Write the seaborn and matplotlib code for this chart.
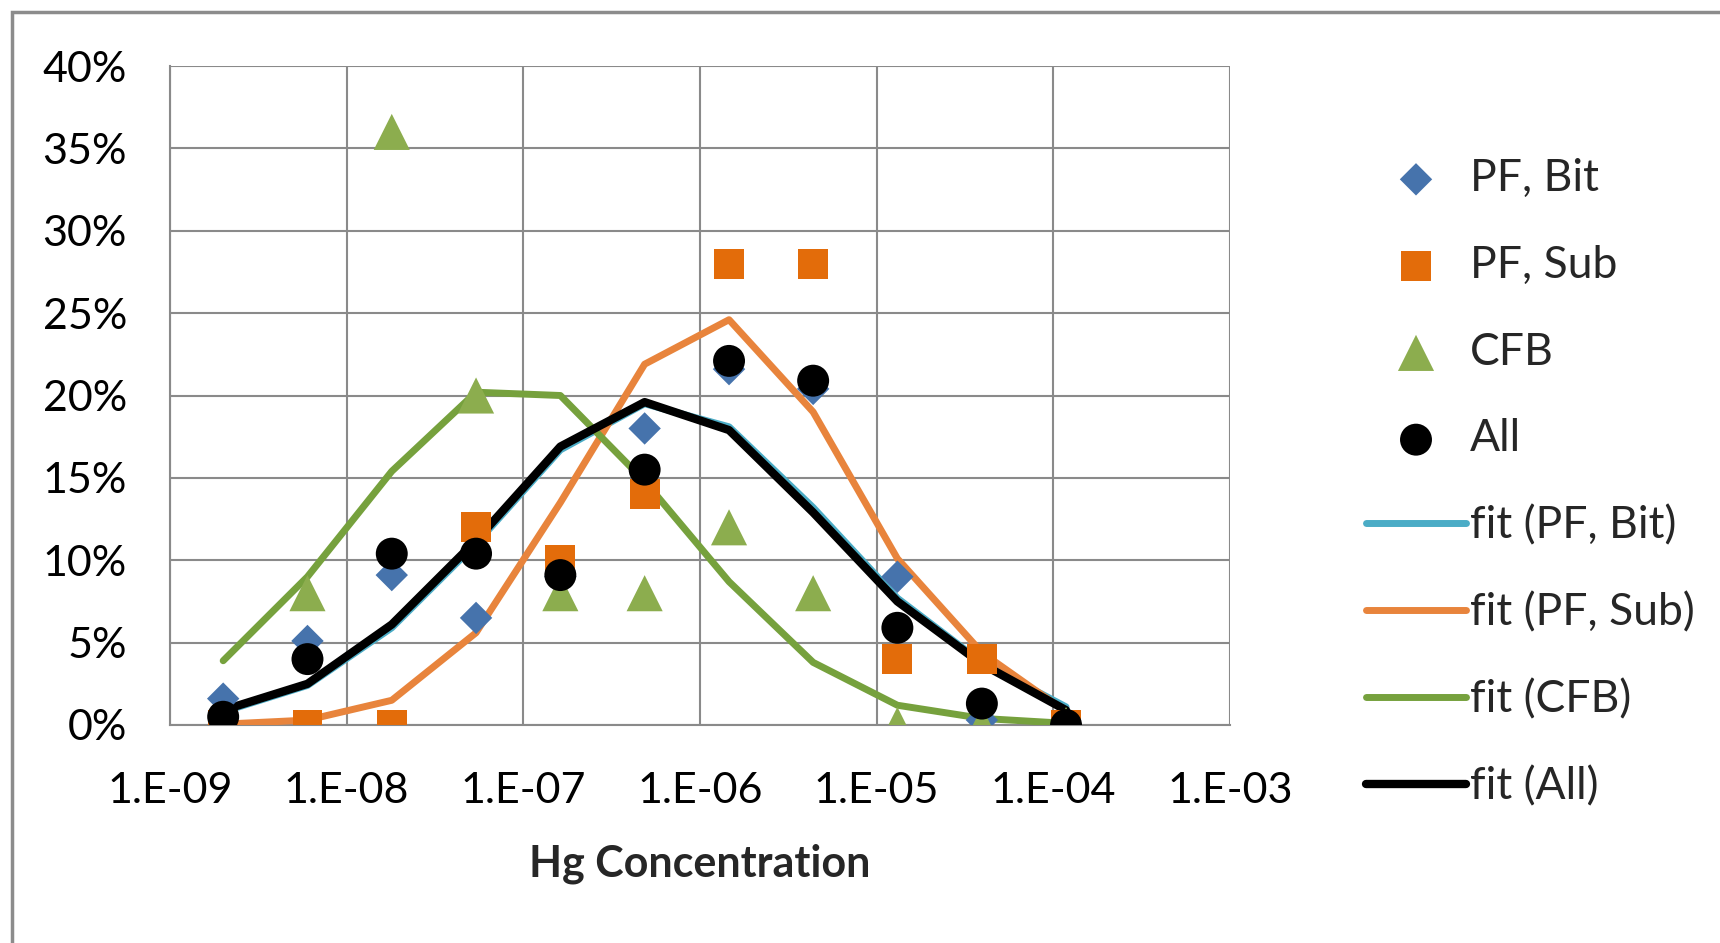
import numpy as np
import pandas as pd
import matplotlib
matplotlib.use("Agg")
import matplotlib.pyplot as plt
import seaborn as sns
from matplotlib.patches import Rectangle
from matplotlib.ticker import FixedLocator, FixedFormatter, NullLocator

# ---------------- data ----------------
hg_conc = [2e-9, 6e-9, 1.8e-8, 5.4e-8, 1.62e-7, 4.86e-7, 1.46e-6, 4.37e-6, 1.31e-5, 3.94e-5, 1.18e-4]

pf_bit = [1.6, 5.1, 9.1, 6.5, 9.0, 18.0, 21.6, 20.4, 9.0, 0.3, 0.0]
pf_sub = [0.0, 0.0, 0.0, 12.0, 10.0, 14.0, 28.0, 28.0, 4.0, 4.0, 0.0]
cfb = [0.0, 8.0, 36.0, 20.0, 8.0, 8.0, 12.0, 8.0, 0.0, 0.0, 0.0]
all_pts = [0.5, 4.0, 10.4, 10.4, 9.1, 15.5, 22.1, 20.9, 5.9, 1.3, 0.0]

fit_pf_bit = [0.8, 2.4, 5.9, 11.0, 16.7, 19.5, 18.1, 13.2, 7.7, 3.8, 1.1]
fit_pf_sub = [0.05, 0.3, 1.5, 5.6, 13.5, 21.9, 24.6, 19.0, 10.1, 4.4, 0.8]
fit_cfb = [3.9, 9.0, 15.4, 20.2, 20.0, 14.8, 8.7, 3.8, 1.2, 0.4, 0.1]
fit_all = [0.9, 2.5, 6.1, 11.2, 16.9, 19.6, 17.9, 12.9, 7.5, 3.7, 0.9]

x_ticks = [1e-9, 1e-8, 1e-7, 1e-6, 1e-5, 1e-4, 1e-3]
x_tick_labels = ["1.E-09", "1.E-08", "1.E-07", "1.E-06", "1.E-05", "1.E-04", "1.E-03"]
y_ticks = [0, 5, 10, 15, 20, 25, 30, 35, 40]
y_tick_labels = ["0%", "5%", "10%", "15%", "20%", "25%", "30%", "35%", "40%"]

# ---------------- style ----------------
sns.set_style("white")
plt.rcParams["font.family"] = ["Lato", "DejaVu Sans"]

W, H = 1720, 943
fig = plt.figure(figsize=(W / 100, H / 100), dpi=100)
ax_l, ax_r, ax_t, ax_b = 170, 1230, 66, 725
ax = fig.add_axes([ax_l / W, 1 - ax_b / H, (ax_r - ax_l) / W, (ax_b - ax_t) / H])

grid_c = "#8a8a8a"

# fit lines (drawn first)
line_specs = [
    (fit_pf_bit, "#4BACC6", 5.0, "fit (PF, Bit)"),
    (fit_pf_sub, "#E8843C", 5.0, "fit (PF, Sub)"),
    (fit_cfb, "#76A13D", 5.0, "fit (CFB)"),
    (fit_all, "#000000", 6.0, "fit (All)"),
]
# markers
marker_specs = [
    (pf_bit, "#4673AC", "D", 16.5, "PF, Bit"),
    (pf_sub, "#E36C0A", "s", 21.5, "PF, Sub"),
    (cfb, "#8CAD4E", "^", 26, "CFB"),
    (all_pts, "#000000", "o", 23, "All"),
]

for vals, col, lw, lab in line_specs:
    sns.lineplot(x=hg_conc, y=vals, ax=ax, color=col, linewidth=lw,
                 label=lab, zorder=3, solid_joinstyle="round", solid_capstyle="round")

for vals, col, mk, ms, lab in marker_specs:
    sns.scatterplot(x=hg_conc, y=vals, ax=ax, color=col, marker=mk, s=ms ** 2,
                    linewidth=0, edgecolor="none", label=lab, zorder=4)

ax.set_xscale("log")
ax.set_xlim(1e-9, 1e-3)
ax.set_ylim(0, 40)
ax.xaxis.set_major_locator(FixedLocator(x_ticks))
ax.xaxis.set_major_formatter(FixedFormatter(x_tick_labels))
ax.xaxis.set_minor_locator(NullLocator())
ax.set_yticks(y_ticks)
ax.set_yticklabels(y_tick_labels)

ax.grid(True, color=grid_c, linewidth=1.5, zorder=0)
ax.set_axisbelow(True)
for s in ["top", "right"]:
    ax.spines[s].set_visible(False)
for s in ["left", "bottom"]:
    ax.spines[s].set_color(grid_c)
    ax.spines[s].set_linewidth(1.5)

ax.tick_params(axis="both", which="major", direction="out", length=11,
               width=1.5, color=grid_c, labelcolor="#000000")
ax.tick_params(axis="x", labelsize=31, pad=23)
ax.tick_params(axis="y", labelsize=31, pad=20)

ax.set_xlabel("Hg Concentration", fontsize=31, fontweight="bold", labelpad=24)
ax.set_ylabel("")

# legend: markers first, then lines (order as in reference)
handles, labels = ax.get_legend_handles_labels()
order = ["PF, Bit", "PF, Sub", "CFB", "All",
         "fit (PF, Bit)", "fit (PF, Sub)", "fit (CFB)", "fit (All)"]
hmap = dict(zip(labels, handles))
leg = ax.legend([hmap[k] for k in order], order, loc="upper left",
                bbox_to_anchor=(1366 / W, 1 - 158 / H), bbox_transform=fig.transFigure,
                frameon=False, fontsize=32, handlelength=2.25, handletextpad=0.08,
                labelspacing=1.03, borderpad=0, borderaxespad=0, markerscale=1.0)

# figure border (chart area outline)
fig.patches.append(Rectangle((12 / W, -0.2), 1.5, 1 - 12 / H + 0.2,
                             transform=fig.transFigure, fill=False,
                             edgecolor="#8c8c8c", linewidth=2.5, clip_on=False))

fig.savefig("out.png", dpi=100)
